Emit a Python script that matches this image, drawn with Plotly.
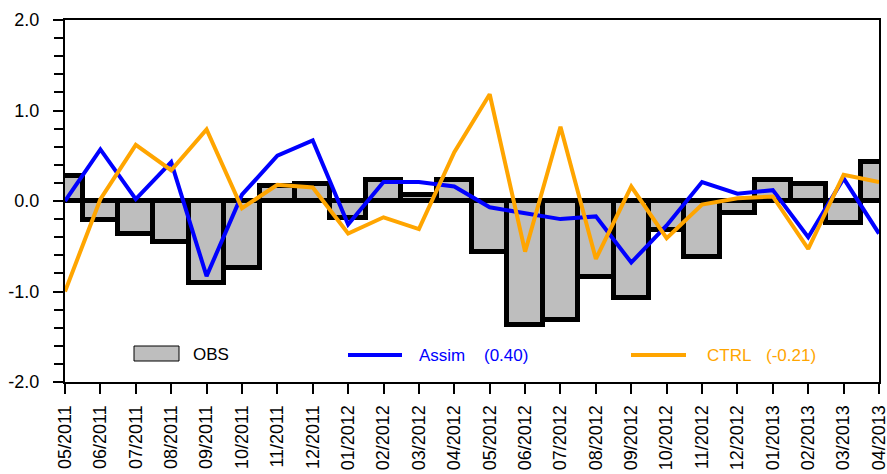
import plotly.graph_objects as go

# Monthly anomalies, 05/2011 - 04/2013
months = ["05/2011", "06/2011", "07/2011", "08/2011", "09/2011", "10/2011",
          "11/2011", "12/2011", "01/2012", "02/2012", "03/2012", "04/2012",
          "05/2012", "06/2012", "07/2012", "08/2012", "09/2012", "10/2012",
          "11/2012", "12/2012", "01/2013", "02/2013", "03/2013", "04/2013"]
obs = [0.28, -0.21, -0.36, -0.45, -0.91, -0.74, 0.17, 0.19, -0.19, 0.23, 0.07, 0.23,
       -0.56, -1.37, -1.31, -0.84, -1.07, -0.32, -0.62, -0.13, 0.23, 0.19, -0.24, 0.43]
assim = [0.0, 0.57, 0.02, 0.43, -0.83, 0.07, 0.50, 0.67, -0.26, 0.21, 0.21, 0.16,
         -0.07, -0.14, -0.20, -0.17, -0.68, -0.27, 0.21, 0.08, 0.12, -0.40, 0.25, -0.36]
ctrl = [-1.0, 0.02, 0.62, 0.34, 0.79, -0.08, 0.18, 0.15, -0.36, -0.18, -0.31, 0.54,
        1.18, -0.56, 0.82, -0.64, 0.16, -0.41, -0.04, 0.03, 0.05, -0.53, 0.29, 0.21]
assim_corr = "0.40"
ctrl_corr = "-0.21"
yticks = [-2, -1, 0, 1, 2]

x = list(range(len(months)))
FONT = "Liberation Sans, Arial, Helvetica, sans-serif"
BLUE = "#0000ff"
ORANGE = "#ffa500"
GRAY = "#bebebe"

fig = go.Figure()
fig.add_trace(go.Bar(x=x, y=obs, width=1.0, marker=dict(color=GRAY, line=dict(color="black", width=5)),
                     showlegend=False))
fig.add_trace(go.Scatter(x=x, y=assim, mode="lines", line=dict(color=BLUE, width=4), showlegend=False))
fig.add_trace(go.Scatter(x=x, y=ctrl, mode="lines", line=dict(color=ORANGE, width=4), showlegend=False))

# Hand-built legend row inside the plot area (paper coordinates)
W, H = 814.0, 362.0
def px(xp):
    return (xp - 65) / W
def py(yp):
    return (382 - yp) / H

shapes = [
    dict(type="rect", xref="paper", yref="paper", x0=px(134), x1=px(179), y0=py(361), y1=py(346),
         fillcolor=GRAY, line=dict(color="black", width=1)),
    dict(type="line", xref="paper", yref="paper", x0=px(348), x1=px(402), y0=py(355), y1=py(355),
         line=dict(color=BLUE, width=4)),
    dict(type="line", xref="paper", yref="paper", x0=px(631), x1=px(686), y0=py(355), y1=py(355),
         line=dict(color=ORANGE, width=4)),
]
annotations = [
    dict(text="OBS", x=px(191), y=py(354), color="black"),
    dict(text="Assim", x=px(417), y=py(355), color=BLUE),
    dict(text="(" + assim_corr + ")", x=px(482), y=py(355), color=BLUE),
    dict(text="CTRL", x=px(705), y=py(355), color=ORANGE),
    dict(text="(" + ctrl_corr + ")", x=px(764), y=py(355), color=ORANGE),
]
fig.update_layout(
    shapes=shapes,
    annotations=[dict(text=a["text"], x=a["x"], y=a["y"], xref="paper", yref="paper",
                      xanchor="left", yanchor="middle", showarrow=False,
                      font=dict(family=FONT, size=17, color=a["color"])) for a in annotations],
)

fig.update_layout(
    width=887, height=474,
    margin=dict(l=65, r=8, t=20, b=92, autoexpand=False),
    plot_bgcolor="white", paper_bgcolor="white",
    bargap=0,
    font=dict(family=FONT, color="black"),
)
fig.update_xaxes(
    range=[0, len(months) - 1], tickmode="array", tickvals=x, ticktext=months,
    tickangle=-90, ticks="outside", ticklen=10, tickwidth=1.5, tickcolor="black",
    tickfont=dict(family=FONT, size=18), ticklabelstandoff=4, automargin=False,
    ticklabeloverflow="allow",
    showline=True, linecolor="black", linewidth=2, mirror=True,
    showgrid=False, zeroline=False,
)
fig.update_yaxes(
    range=[-2, 2], tickmode="array", tickvals=yticks, ticktext=["%.1f" % v for v in yticks],
    ticks="outside", ticklen=10, tickwidth=1.5, tickcolor="black",
    minor=dict(dtick=0.2, tick0=0, ticks="outside", ticklen=9, tickwidth=1.5, tickcolor="black", showgrid=False),
    tickfont=dict(family=FONT, size=18), ticklabelstandoff=10, automargin=False,
    showline=True, linecolor="black", linewidth=2, mirror=True,
    showgrid=False, zeroline=True, zerolinecolor="black", zerolinewidth=4,
)

fig.write_html("out.html")
